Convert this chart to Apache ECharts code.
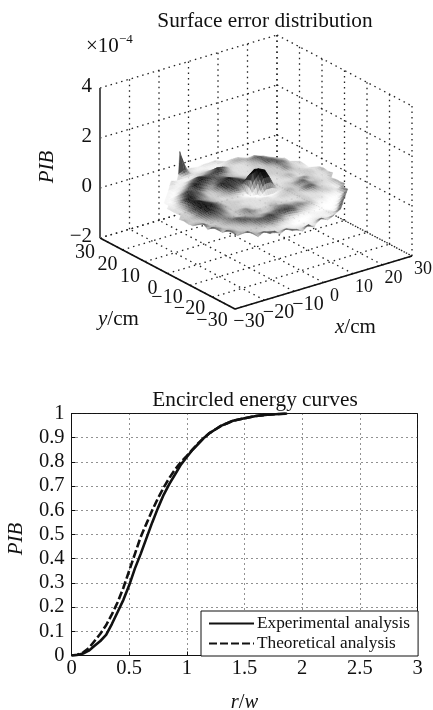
<!DOCTYPE html>
<html><head><meta charset="utf-8">
<style>html,body{margin:0;padding:0;background:#fff}#c{width:433px;height:710px}</style>
<script src="https://cdn.jsdelivr.net/npm/echarts@6/dist/echarts.min.js"></script>
</head><body><div id="c"></div>
<script>
// ---- lower chart data ----
const radius = [0,.05,.1,.15,.2,.25,.3,.35,.4,.45,.5,.55,.6,.65,.7,.75,.8,.85,.9,.95,1,1.05,1.1,1.15,1.2,1.25,1.3,1.35,1.4,1.5,1.6,1.7,1.8,1.87];
const experimental = [0,.002,.008,.02,.04,.06,.085,.13,.18,.23,.29,.36,.42,.485,.55,.61,.665,.71,.75,.79,.82,.85,.875,.9,.92,.935,.95,.96,.97,.98,.99,.995,.998,1];
const theoretical = [0,.003,.012,.03,.06,.09,.125,.17,.22,.28,.35,.42,.49,.545,.6,.65,.695,.735,.77,.8,.825,.852,.877,.9,.92,.935,.95,.96,.97,.98,.99,.995,.998,1];
// ---- upper chart data ----
const xyTicks = [-30,-20,-10,0,10,20,30];
const zTicks = [-2,0,2,4];
// surface height code per node (base 12): rows y = 26..-26, columns x = -26..26, step 2
const surfaceRows = [
"..........9321223..........",
".........47211111233.......",
".......311122211234434.....",
"......21112345763223564....",
".....1112576677422234653...",
"....101367876543222336643..",
"...1014687656643223334652..",
"..102576754678643233335423.",
"..114776435877753223335322.",
".2137865334776776322333321.",
".2248754334564aba3223423323",
".2258864323310b9b4222323324",
".33688753322100aa3233453223",
"333688753332210002335633224",
"43468764332222212343454323.",
"33356653333222223333663224.",
"44345543453223322232343214.",
".7334543454334332232223215.",
".343456544334554433221115..",
".853346654556665543110016..",
"..3433456676676432100017...",
"..853334566532111000017....",
"...3433334321000111018.....",
"....84322211000111217......",
".....372222111122127.......",
".......83722212726.........",
"..........7283............."
];
// height (x 1e-4) and gray value for each code 0-b
const heightLevels = [-.08,-.04,0,.02,.05,.08,.11,.15,.2,.8,.5,.68];
const grayLevels = [255,242,222,200,165,120,80,45,18,4,22,10];
const FONT = '"Liberation Serif"';
const SUB = 3;

const proj = (x,y,z) => [100+(x+30)/60*177+(30-y)/60*135, 238-(x+30)/60*53+(30-y)/60*71-(z+2)/6*150];

// surface cells, painted back to front
const nodes = surfaceRows.map(r => r.split('').map(ch => ch === '.' ? null : parseInt(ch,12)));
const node = (r,c) => (nodes[r] && nodes[r][c] != null) ? {x:-26+2*c, y:26-2*r, z:heightLevels[nodes[r][c]], g:grayLevels[nodes[r][c]]} : null;
const cells = [];
const mix = (a,b,k) => ({x:a.x+(b.x-a.x)*k, y:a.y+(b.y-a.y)*k, z:a.z+(b.z-a.z)*k, g:a.g+(b.g-a.g)*k});
for (let r=0;r<26;r++) for (let c=0;c<26;c++){
  const A=node(r,c),B=node(r,c+1),C=node(r+1,c+1),D=node(r+1,c);
  const pts=[A,B,C,D].filter(Boolean);
  if (pts.length===4){
    const at=(s,t)=>mix(mix(D,C,s),mix(A,B,s),t);
    for(let i=0;i<SUB;i++) for(let j=0;j<SUB;j++){
      const s0=i/SUB,s1=(i+1)/SUB,t0=j/SUB,t1=(j+1)/SUB;
      cells.push({pts:[at(s0,t1),at(s1,t1),at(s1,t0),at(s0,t0)],d:(-26+2*c+2*(s0+s1)/2)+(26-2*r-2+2*(t0+t1)/2)});
    }
  } else if (pts.length===3){
    cells.push({pts,d:pts.reduce((s,n)=>s+n.x+n.y,0)/3});
  }
}
cells.sort((a,b)=>b.d-a.d);

// frame segments: dotted back walls and floor
const dotted = [];
const lo=-30, hi=30, zl=-2, zh=4;
xyTicks.forEach(t=>{
  dotted.push([t,lo,zl,t,hi,zl]);
  dotted.push([lo,t,zl,hi,t,zl]);
  dotted.push([t,hi,zl,t,hi,zh]);
  dotted.push([hi,t,zl,hi,t,zh]);
});
zTicks.forEach(z=>{
  dotted.push([lo,hi,z,hi,hi,z]);
  dotted.push([hi,hi,z,hi,lo,z]);
});
const solid = [[lo,hi,zl,lo,lo,zl,'#111',1.6],[lo,lo,zl,hi,lo,zl,'#111',1.6],[lo,hi,zl,lo,hi,zh,'#555',2]];

const textEls = [];
const fmt = v => v<0 ? '\u2212'+(-v) : String(v);
const addText = (p,dx,dy,text,align,size) => textEls.push({p,dx,dy,text,align,size});
xyTicks.forEach(t=>{
  addText(proj(lo,t,zl), t<0?-23:-15, t<0?12:15, fmt(t),'center',20);
  addText(proj(t,lo,zl), t<0?14:11, t<0?13:13.5, fmt(t),'center',t<0?20:18);
});
zTicks.forEach(z=> addText(proj(lo,hi,z),-8,-2,fmt(z),'right',21));

const option = {
  animation:false,
  backgroundColor:'#fff',
  title:[
    {text:'Surface error distribution',left:260,top:6,textAlign:'center',textStyle:{fontFamily:FONT,fontSize:21.3,fontWeight:'normal',color:'#111'}},
    {text:'Encircled energy curves',left:250,top:385,textAlign:'center',textStyle:{fontFamily:FONT,fontSize:21.3,fontWeight:'normal',color:'#111'}}
  ],
  grid:[
    {left:71.5,top:413.5,width:346,height:242,show:true,borderColor:'#111',borderWidth:1,backgroundColor:'#fff',outerBoundsMode:'none'},
    {left:0,top:0,width:433,height:370,show:false,outerBoundsMode:'none'}
  ],
  xAxis:[
    {type:'value',gridIndex:0,min:0,max:3,interval:.5,
     name:'{i|r}/{i|w}',nameLocation:'middle',nameGap:37,nameTextStyle:{fontFamily:FONT,fontSize:20.5,color:'#111',rich:{i:{fontFamily:FONT,fontSize:20.5,fontStyle:'italic',color:'#111'}}},
     axisLine:{show:true,lineStyle:{color:'#111'}},axisTick:{show:true,inside:true,length:4,lineStyle:{color:'#111'}},
     axisLabel:{fontFamily:FONT,fontSize:20.5,color:'#111',margin:3,showMinLabel:true,showMaxLabel:true,hideOverlap:false},
     splitLine:{show:true,lineStyle:{color:'#222',type:[1,4],width:1}}},
    {type:'value',gridIndex:1,min:0,max:433,show:false}
  ],
  yAxis:[
    {type:'value',gridIndex:0,min:0,max:1,interval:.1,
     name:'PIB',nameLocation:'middle',nameGap:45,nameRotate:90,nameTextStyle:{fontFamily:FONT,fontSize:21,fontStyle:'italic',color:'#111',padding:[0,9,0,0]},
     axisLine:{show:true,lineStyle:{color:'#111'}},axisTick:{show:true,inside:true,length:4,lineStyle:{color:'#111'}},
     axisLabel:{fontFamily:FONT,fontSize:20.5,color:'#111',margin:7,hideOverlap:false},
     splitLine:{show:true,lineStyle:{color:'#222',type:[1,4],width:1}}},
    {type:'value',gridIndex:1,min:0,max:370,inverse:true,show:false}
  ],
  legend:{
    data:['Experimental analysis','Theoretical analysis'],
    orient:'vertical',left:201,top:611,align:'left',
    padding:[4,8,4,7],itemGap:3,itemWidth:45,itemHeight:14,
    itemStyle:{opacity:0},
    backgroundColor:'#fff',borderColor:'#111',borderWidth:1,borderRadius:0,
    textStyle:{fontFamily:FONT,fontSize:17.3,color:'#111',padding:[0,0,0,-2]}
  },
  series:[
    {name:'Experimental analysis',type:'line',xAxisIndex:0,yAxisIndex:0,showSymbol:false,symbol:'none',z:3,
     data:radius.map((r,i)=>[r,experimental[i]]),lineStyle:{color:'#111',width:2.6},itemStyle:{color:'#111'}},
    {name:'Theoretical analysis',type:'line',xAxisIndex:0,yAxisIndex:0,showSymbol:false,symbol:'none',z:3,
     data:radius.map((r,i)=>[r,theoretical[i]]),lineStyle:{color:'#111',width:2.6,type:[8,3]},itemStyle:{color:'#111'}},
    {name:'frame',type:'custom',xAxisIndex:1,yAxisIndex:1,coordinateSystem:'cartesian2d',clip:false,z:2,silent:true,
     data:dotted.map((d,i)=>[i]),
     renderItem:(p,api)=>{
       const d = dotted[p.dataIndex];
       const a = api.coord(proj(d[0],d[1],d[2])), b = api.coord(proj(d[3],d[4],d[5]));
       return {type:'line',shape:{x1:a[0],y1:a[1],x2:b[0],y2:b[1]},style:{stroke:'#222',lineWidth:1.3,lineDash:[1.5,4]}};
     }},
    {name:'surface',type:'custom',xAxisIndex:1,yAxisIndex:1,coordinateSystem:'cartesian2d',clip:false,z:3,silent:true,
     data:cells.map((c,i)=>[i]),
     renderItem:(p,api)=>{
       const c = cells[p.dataIndex].pts;
       const g = Math.round(c.reduce((s,n)=>s+n.g,0)/c.length);
       const col = `rgb(${g},${g},${g})`;
       return {type:'polygon',shape:{points:c.map(n=>api.coord(proj(n.x,n.y,n.z)))},style:{fill:col,stroke:col,lineWidth:.3}};
     }},
    {name:'axes',type:'custom',xAxisIndex:1,yAxisIndex:1,coordinateSystem:'cartesian2d',clip:false,z:4,silent:true,
     data:solid.map((d,i)=>[i]),
     renderItem:(p,api)=>{
       const d = solid[p.dataIndex];
       const a = api.coord(proj(d[0],d[1],d[2])), b = api.coord(proj(d[3],d[4],d[5]));
       return {type:'line',shape:{x1:a[0],y1:a[1],x2:b[0],y2:b[1]},style:{stroke:d[6],lineWidth:d[7]}};
     }},
    {name:'labels',type:'custom',xAxisIndex:1,yAxisIndex:1,coordinateSystem:'cartesian2d',clip:false,z:5,silent:true,
     data:textEls.map((d,i)=>[i]),
     renderItem:(p,api)=>{
       const t = textEls[p.dataIndex];
       const a = api.coord(t.p);
       return {type:'text',x:a[0]+t.dx,y:a[1]+t.dy,style:{text:t.text,fontFamily:FONT,fontSize:t.size,fill:'#111',align:t.align,verticalAlign:'middle'}};
     }}
  ],
  graphic:[
    {type:'text',left:86,top:36,style:{text:'\u00d710',font:'21px "Liberation Serif"',fill:'#111'}},
    {type:'text',left:119,top:33,style:{text:'\u22124',font:'13px "Liberation Serif"',fill:'#111'}},
    {type:'text',left:98,top:309,style:{text:'{i|y}/cm',font:'21px "Liberation Serif"',fill:'#111',rich:{i:{font:'italic 21px "Liberation Serif"',fill:'#111'}}}},
    {type:'text',left:335,top:317,style:{text:'{i|x}/cm',font:'21px "Liberation Serif"',fill:'#111',rich:{i:{font:'italic 21px "Liberation Serif"',fill:'#111'}}}},
    {type:'text',x:47,y:167,rotation:Math.PI/2,style:{text:'PIB',font:'italic 21px "Liberation Serif"',fill:'#111',align:'center',verticalAlign:'middle'}}
  ]
};
const chart = echarts.init(document.getElementById('c'),null,{renderer:'canvas'});
chart.setOption(option);
</script></body></html>
